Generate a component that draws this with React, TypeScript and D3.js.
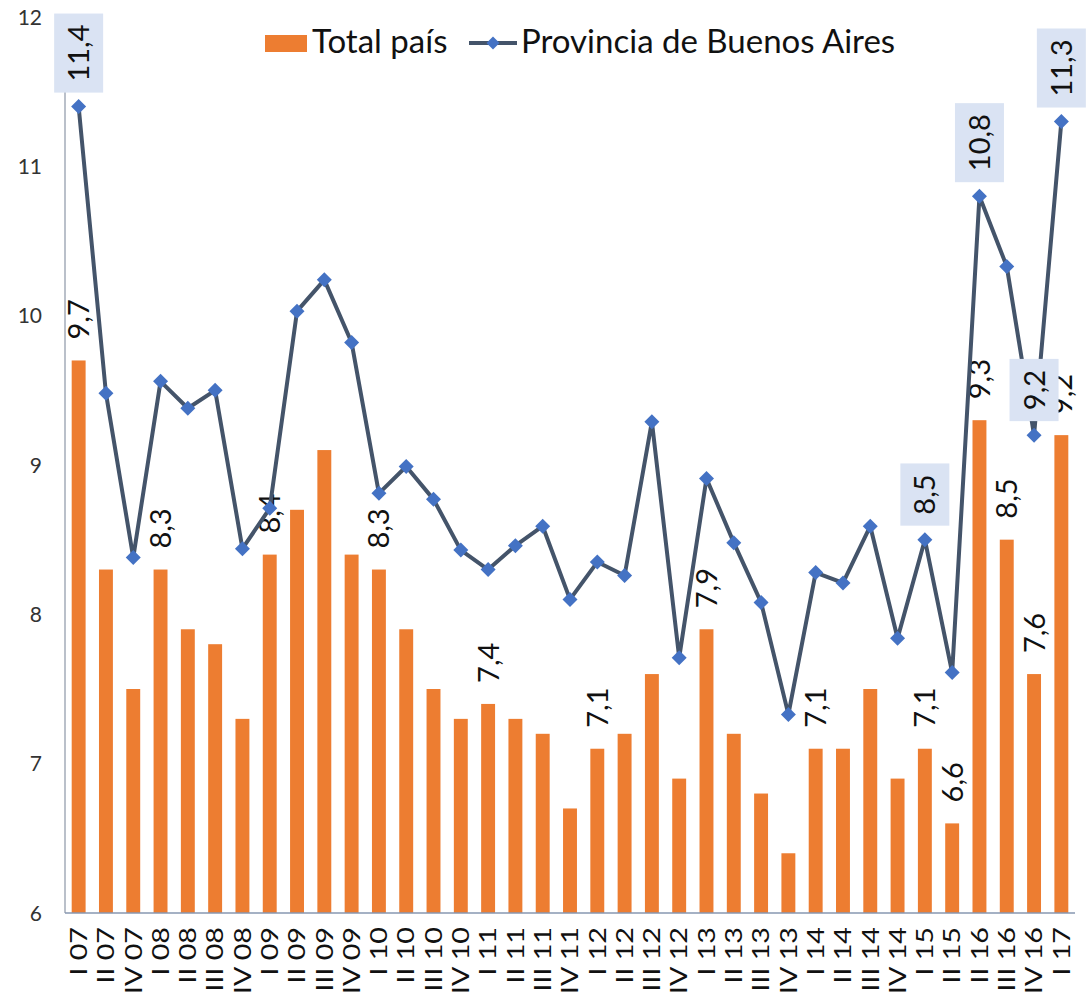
import React, { useEffect, useRef } from 'react';
import * as d3 from 'd3';

// quarters (III 07, III 15, IV 15 and I 16 are missing in the source series)
const categories = [
  'I 07', 'II 07', 'IV 07',
  'I 08', 'II 08', 'III 08', 'IV 08',
  'I 09', 'II 09', 'III 09', 'IV 09',
  'I 10', 'II 10', 'III 10', 'IV 10',
  'I 11', 'II 11', 'III 11', 'IV 11',
  'I 12', 'II 12', 'III 12', 'IV 12',
  'I 13', 'II 13', 'III 13', 'IV 13',
  'I 14', 'II 14', 'III 14', 'IV 14',
  'I 15', 'II 15',
  'II 16', 'III 16', 'IV 16',
  'I 17',
];

const totalPais = [
  9.7, 8.3, 7.5,
  8.3, 7.9, 7.8, 7.3,
  8.4, 8.7, 9.1, 8.4,
  8.3, 7.9, 7.5, 7.3,
  7.4, 7.3, 7.2, 6.7,
  7.1, 7.2, 7.6, 6.9,
  7.9, 7.2, 6.8, 6.4,
  7.1, 7.1, 7.5, 6.9,
  7.1, 6.6,
  9.3, 8.5, 7.6,
  9.2,
];

const buenosAires = [
  11.4, 9.48, 8.38,
  9.56, 9.38, 9.5, 8.44,
  8.71, 10.03, 10.24, 9.82,
  8.81, 8.99, 8.77, 8.43,
  8.3, 8.46, 8.59, 8.1,
  8.35, 8.26, 9.29, 7.71,
  8.91, 8.48, 8.08, 7.33,
  8.28, 8.21, 8.59, 7.84,
  8.5, 7.61,
  10.8, 10.33, 9.2,
  11.3,
];

// which points carry a data label
const barLabelCats = ['I 07', 'I 08', 'I 09', 'I 10', 'I 11', 'I 12', 'I 13', 'I 14', 'I 15', 'II 15', 'II 16', 'III 16', 'IV 16', 'I 17'];
const lineLabelCats = ['I 07', 'I 15', 'II 16', 'IV 16', 'I 17'];

const yTicks = [6, 7, 8, 9, 10, 11, 12];

const seriesNames = ['Total país', 'Provincia de Buenos Aires'];

const App = () => {
  const svgRef = useRef<SVGSVGElement | null>(null);

  useEffect(() => {
    const width = 1086;
    const height = 994;
    const left = 65;
    const right = 1075;
    const top = 17;
    const bottom = 913;

    const font = 'Lato, Carlito, Calibri, sans-serif';
    const orange = '#ed7d31';
    const lineColor = '#44546a';
    const markerColor = '#4472c4';
    const boxFill = '#dae3f3';

    const svg = d3.select(svgRef.current);
    svg.selectAll('*').remove();
    svg.attr('width', width).attr('height', height);

    const x = d3.scaleBand<string>()
      .domain(categories)
      .range([left, right])
      .paddingInner(0.49)
      .paddingOuter(0.245);

    const y = d3.scaleLinear()
      .domain([6, 12])
      .range([bottom, top]);

    const fmt = (v: number) => d3.format('.1f')(v).replace('.', ',');
    const cx = (c: string) => (x(c) as number) + x.bandwidth() / 2;

    // bars
    svg.append('g')
      .selectAll('rect')
      .data(categories)
      .join('rect')
      .attr('x', (d) => x(d) as number)
      .attr('y', (d, i) => y(totalPais[i]))
      .attr('width', x.bandwidth())
      .attr('height', (d, i) => bottom - y(totalPais[i]))
      .attr('fill', orange);

    // bar labels
    svg.append('g')
      .selectAll('text')
      .data(categories.filter((c) => barLabelCats.includes(c)))
      .join('text')
      .attr('transform', (c) => {
        const i = categories.indexOf(c);
        return `translate(${cx(c)},${y(totalPais[i]) - 21}) rotate(-90)`;
      })
      .attr('dy', '0.36em')
      .attr('text-anchor', 'start')
      .style('font-family', font)
      .style('font-size', '29px')
      .style('fill', '#111')
      .text((c) => fmt(totalPais[categories.indexOf(c)]));

    // y axis
    svg.append('line')
      .attr('x1', left).attr('x2', left)
      .attr('y1', top).attr('y2', bottom)
      .attr('stroke', '#a3abb8').attr('stroke-width', 1.5);

    svg.append('g')
      .selectAll('text')
      .data(yTicks)
      .join('text')
      .attr('x', 42)
      .attr('y', (d) => y(d))
      .attr('dy', '0.36em')
      .attr('text-anchor', 'end')
      .style('font-family', font)
      .style('font-size', '21px')
      .style('fill', '#333')
      .text((d) => d);

    // x axis
    svg.append('line')
      .attr('x1', left).attr('x2', right)
      .attr('y1', bottom).attr('y2', bottom)
      .attr('stroke', '#8797b0').attr('stroke-width', 1.5);

    svg.append('g')
      .selectAll('text')
      .data(categories)
      .join('text')
      .attr('transform', (c) => `translate(${cx(c)},927) rotate(-90) scale(1.25,1)`)
      .attr('dy', '0.36em')
      .attr('text-anchor', 'end')
      .style('font-family', font)
      .style('font-size', '23px')
      .style('fill', '#111')
      .text((c) => c);

    // Buenos Aires line
    const line = d3.line<number>()
      .x((d, i) => cx(categories[i]))
      .y((d) => y(d));

    svg.append('path')
      .datum(buenosAires)
      .attr('d', line)
      .attr('fill', 'none')
      .attr('stroke', lineColor)
      .attr('stroke-width', 4)
      .attr('stroke-linejoin', 'round');

    const diamond = (r: number) => `M0,${-r}L${r},0L0,${r}L${-r},0Z`;

    svg.append('g')
      .selectAll('path')
      .data(buenosAires)
      .join('path')
      .attr('transform', (d, i) => `translate(${cx(categories[i])},${y(d)})`)
      .attr('d', diamond(7.5))
      .attr('fill', markerColor);

    // boxed line labels
    const boxes = svg.append('g');
    lineLabelCats.forEach((c) => {
      const i = categories.indexOf(c);
      const px = cx(c);
      const py = y(buenosAires[i]);
      const g = boxes.append('g');
      const rect = g.append('rect').attr('fill', boxFill);
      const t = g.append('text')
        .attr('dy', '0.36em')
        .attr('text-anchor', 'middle')
        .style('font-family', font)
        .style('font-size', '29px')
        .style('fill', '#111')
        .text(fmt(buenosAires[i]));
      const len = (t.node() as SVGTextElement).getComputedTextLength();
      const boxH = len + 22;
      const boxW = 49;
      const midY = py - 14 - boxH / 2;
      rect.attr('x', px - boxW / 2).attr('y', py - 14 - boxH)
        .attr('width', boxW).attr('height', boxH);
      t.attr('transform', `translate(${px},${midY}) rotate(-90)`);
    });

    // legend
    const legend = svg.append('g');
    legend.append('rect')
      .attr('x', 265).attr('y', 35)
      .attr('width', 42).attr('height', 17)
      .attr('fill', orange);
    legend.append('text')
      .attr('x', 312).attr('y', 53)
      .style('font-family', font)
      .style('font-size', '33px')
      .style('fill', '#111')
      .text(seriesNames[0]);
    legend.append('line')
      .attr('x1', 469).attr('x2', 517)
      .attr('y1', 43).attr('y2', 43)
      .attr('stroke', lineColor).attr('stroke-width', 4);
    legend.append('path')
      .attr('transform', 'translate(493,43)')
      .attr('d', diamond(6.5))
      .attr('fill', markerColor);
    legend.append('text')
      .attr('x', 521).attr('y', 53)
      .style('font-family', font)
      .style('font-size', '33px')
      .style('fill', '#111')
      .text(seriesNames[1]);
  }, []);

  return (
    <div style={{ position: 'absolute', left: 0, top: 0, width: 1086, height: 994, background: '#fff' }}>
      <svg ref={svgRef} style={{ display: 'block' }}></svg>
    </div>
  );
};

export default App;
